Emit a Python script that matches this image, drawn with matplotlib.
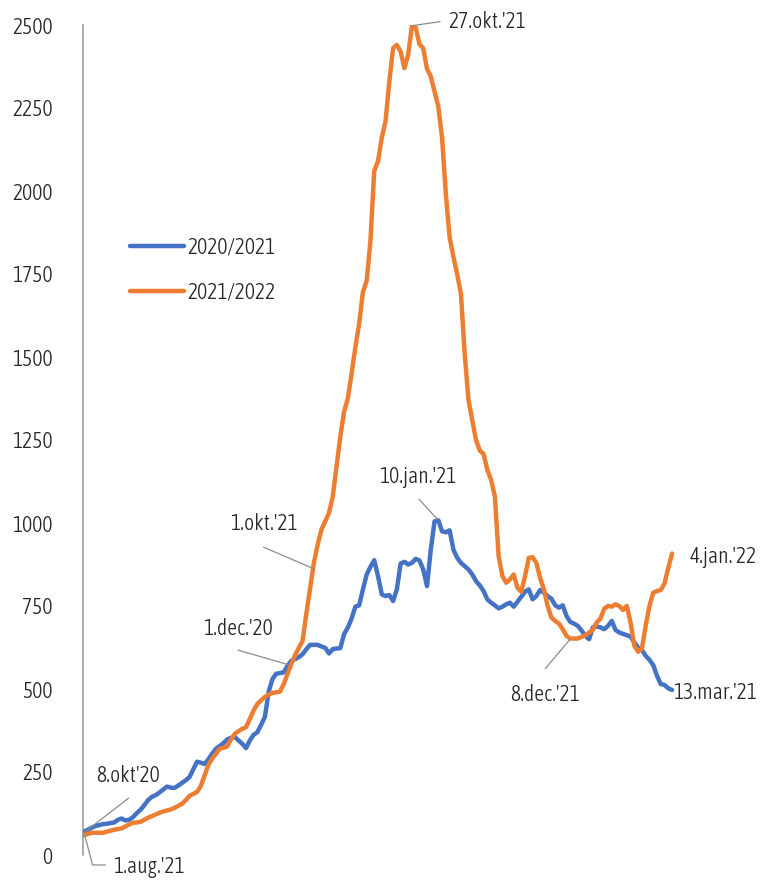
import matplotlib
matplotlib.use("Agg")
import matplotlib.pyplot as plt
from matplotlib import font_manager
from matplotlib.font_manager import FontProperties
from matplotlib.textpath import TextPath

# ---------------- data ----------------
series_labels = ["2020/2021", "2021/2022"]

# 2020/2021 : daily values from 8 Oct 2020 to 13 Mar 2021
blue_values = [
    70, 76, 82, 87, 90, 93, 94, 96, 98, 106,
    110, 104, 106, 114, 126, 136, 150, 165, 175, 180,
    188, 197, 206, 203, 202, 209, 217, 225, 235, 258,
    281, 278, 274, 288, 305, 320, 328, 337, 348, 353,
    356, 345, 335, 322, 345, 362, 370, 392, 416, 492,
    530, 546, 548, 550, 570, 585, 590, 596, 605, 620,
    633, 633, 633, 628, 624, 607, 620, 622, 623, 665,
    685, 712, 748, 752, 800, 845, 868, 888, 840, 785,
    780, 783, 765, 800, 878, 883, 875, 880, 892, 887,
    860, 810, 920, 1005, 1008, 975, 972, 978, 920, 895,
    880, 870, 860, 845, 825, 812, 795, 770, 760, 752,
    743, 748, 755, 760, 748, 763, 778, 793, 800, 770,
    780, 798, 790, 780, 772, 752, 745, 752, 720, 702,
    697, 690, 676, 660, 650, 686, 688, 686, 680, 690,
    705, 678, 670, 666, 662, 658, 640, 625, 618, 600,
    588, 572, 540, 515, 512, 502, 497,
]

# 2021/2022 : daily values from 1 Aug 2021 to 4 Jan 2022
orange_values = [
    60, 63, 67, 67, 67, 67, 70, 73, 76, 78,
    80, 86, 92, 97, 98, 100, 106, 112, 117, 122,
    127, 131, 134, 137, 142, 148, 154, 165, 178, 184,
    190, 208, 240, 271, 290, 305, 320, 323, 327, 348,
    365, 373, 380, 385, 410, 435, 455, 466, 476, 483,
    488, 490, 492, 515, 545, 575, 602, 624, 645, 728,
    805, 880, 935, 980, 1005, 1030, 1080, 1170, 1260, 1335,
    1375, 1450, 1530, 1600, 1695, 1730, 1850, 2060, 2090, 2160,
    2210, 2330, 2430, 2440, 2420, 2370, 2410, 2497, 2492, 2442,
    2430, 2368, 2345, 2300, 2254, 2160, 1990, 1860, 1802, 1750,
    1690, 1510, 1370, 1310, 1250, 1218, 1208, 1160, 1130, 1080,
    900, 840, 820, 830, 845, 805, 793, 840, 895, 897,
    880, 835, 800, 750, 715, 705, 697, 680, 660, 652,
    652, 652, 657, 662, 670, 678, 700, 712, 742, 750,
    748, 755, 750, 738, 750, 700, 630, 612, 622, 690,
    750, 790, 795, 798, 818, 865, 908,
]

y_ticks = [0, 250, 500, 750, 1000, 1250, 1500, 1750, 2000, 2250, 2500]

# ---------------- font: pick the narrowest reasonable installed face ----------------
stretch_dict = font_manager.stretch_dict
weight_dict = font_manager.weight_dict


def _num(v, table, default):
    if isinstance(v, (int, float)):
        return v
    try:
        return int(v)
    except (TypeError, ValueError):
        return table.get(str(v).lower(), default)


best = None
for f in font_manager.fontManager.ttflist:
    if f.style != "normal":
        continue
    st = _num(f.stretch, stretch_dict, 500)
    wt = _num(f.weight, weight_dict, 400)
    if st > 400 or wt < 250 or wt > 450:
        continue
    score = abs(st - 200) + 0.3 * abs(wt - 330)
    if best is None or score < best[0]:
        best = (score, f.fname, f.name)

if best is not None:
    base_fp = FontProperties(fname=best[1])
else:
    base_fp = FontProperties(family="DejaVu Sans")

# size so that a reference label has about the reference width (82 px)
tp = TextPath((0, 0), "13.mar.'21", size=10, prop=base_fp)
w_px = tp.get_extents().width * 100 / 72
FS = min(20.0, 10 * 82 / w_px)


def fp(size=FS):
    p = base_fp.copy()
    p.set_size(size)
    return p


TXT = "#262626"

# ---------------- figure ----------------
W, H = 761, 882
fig = plt.figure(figsize=(W / 100, H / 100), dpi=100)
left_px, bottom_px, top_px = 83, 855, 25
x_lo, x_hi = -0.25, 175.0
px_per_day = 3.77
ax_w_px = (x_hi - x_lo) * px_per_day
ax = fig.add_axes([left_px / W, 1 - bottom_px / H, ax_w_px / W, (bottom_px - top_px) / H])

days_blue = list(range(len(blue_values)))
days_orange = list(range(len(orange_values)))
ax.plot(days_blue, blue_values, color="#4472C4", lw=3.2, label=series_labels[0],
        solid_joinstyle="round", solid_capstyle="round", zorder=3)
ax.plot(days_orange, orange_values, color="#ED7D31", lw=3.2, label=series_labels[1],
        solid_joinstyle="round", solid_capstyle="round", zorder=4)

ax.set_xlim(x_lo, x_hi)
ax.set_ylim(0, 2500)
ax.set_yticks(y_ticks)
ax.set_yticklabels([str(t) for t in y_ticks], color=TXT)
for lab in ax.get_yticklabels():
    lab.set_fontproperties(fp())
ax.set_xticks([])
ax.tick_params(axis="y", length=0, pad=22)
for s in ["top", "right", "bottom"]:
    ax.spines[s].set_visible(False)
ax.spines["left"].set_color("#A6A6A6")
ax.spines["left"].set_linewidth(1.3)

# legend
leg = ax.legend(loc="center left", bbox_to_anchor=(130 / W, 1 - 270 / H),
                bbox_transform=fig.transFigure, frameon=False, prop=fp(),
                handlelength=2.5, handletextpad=0.15, labelspacing=1.05,
                borderpad=0, borderaxespad=0)
for t in leg.get_texts():
    t.set_color(TXT)

# annotations: (text, x, y, ha, leader points)
LEAD = "#8C8C8C"
annotations = [
    ("27.okt.'21", 96.6, 2510, "left", [(87.1, 2498), (94.4, 2510)]),
    ("10.jan.'21", 88.5, 1139, "center", [(88.9, 1071), (93.7, 1012)]),
    ("4.jan.'22", 160.7, 898, "left", []),
    ("13.mar.'21", 156.2, 488, "left", []),
    ("8.dec.'21", 122.3, 482, "center", [(122.4, 562), (128.9, 649)]),
    ("1.dec.'20", 40.9, 680, "center", [(40.9, 617), (54.6, 572)]),
    ("1.okt.'21", 47.6, 997, "center", [(47.7, 927), (60.8, 863)]),
    ("8.okt'20", 11.8, 238, "center", [(11.8, 171), (0.3, 70)]),
    ("1.aug.'21", 7.8, -35, "left", [(0.2, 60), (2.3, -30), (5.6, -30)]),
]
for text, tx, ty, ha, pts in annotations:
    ax.text(tx, ty, text, ha=ha, va="center", fontproperties=fp(), color=TXT,
            clip_on=False, zorder=6)
    if pts:
        ax.plot([p[0] for p in pts], [p[1] for p in pts], color=LEAD, lw=0.9,
                clip_on=False, zorder=5)

fig.savefig("out.png", dpi=100)
